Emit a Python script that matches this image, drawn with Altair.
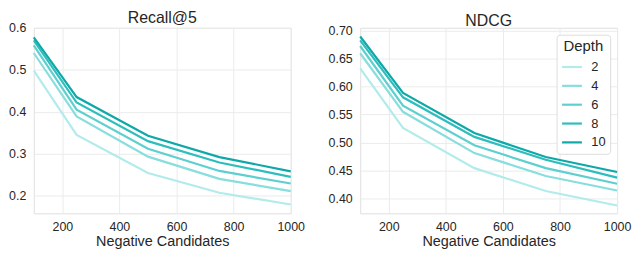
import altair as alt
import pandas as pd

candidates = [100, 250, 500, 750, 1000]
depths = [2, 4, 6, 8, 10]

recall = {
    2: [0.498, 0.345, 0.254, 0.207, 0.179],
    4: [0.540, 0.389, 0.293, 0.240, 0.211],
    6: [0.558, 0.405, 0.312, 0.259, 0.229],
    8: [0.570, 0.422, 0.330, 0.279, 0.245],
    10: [0.577, 0.435, 0.343, 0.292, 0.258],
}
ndcg = {
    2: [0.633, 0.526, 0.454, 0.413, 0.387],
    4: [0.660, 0.555, 0.481, 0.440, 0.414],
    6: [0.673, 0.566, 0.495, 0.454, 0.426],
    8: [0.683, 0.581, 0.510, 0.469, 0.437],
    10: [0.690, 0.589, 0.517, 0.474, 0.447],
}
colors = ["#b2ebeb", "#88dddd", "#5ecfcf", "#2ebdbd", "#0fa8a8"]

def frame(d):
    rows = []
    for dep in depths:
        for x, v in zip(candidates, d[dep]):
            rows.append({"Negative Candidates": x, "Depth": str(dep), "value": v})
    return pd.DataFrame(rows)

FONT = "Liberation Sans"
color_scale = alt.Scale(domain=[str(d) for d in depths], range=colors)

def panel(df, title, domain, ticks, fmt, legend):
    return alt.Chart(df, title=alt.Title(title, fontSize=16, font=FONT, fontWeight="normal",
                                         color="#262626", offset=-4)).mark_line(strokeWidth=2.2).encode(
        x=alt.X("Negative Candidates:Q",
                scale=alt.Scale(domain=[100, 1000], nice=False, zero=False),
                axis=alt.Axis(values=[200, 400, 600, 800, 1000], format="d", labelFlush=False,
                              labelPadding=7, titlePadding=2, title="Negative Candidates")),
        y=alt.Y("value:Q", scale=alt.Scale(domain=domain, nice=False, zero=False),
                axis=alt.Axis(values=ticks, format=fmt, labelPadding=8, title=None)),
        color=alt.Color("Depth:N", scale=color_scale, sort=[str(d) for d in depths], legend=legend),
        detail="Depth:N",
    ).properties(width=259, height=187)

legend = alt.Legend(
    title="Depth", orient="top-right", offset=7, symbolType="stroke", symbolStrokeWidth=2.2,
    symbolSize=400, titleFontSize=15, titleFont=FONT, titleFontWeight="normal", titleColor="#262626",
    labelFontSize=13, labelFont=FONT, labelColor="#262626", fillColor="white",
    strokeColor="#dddddd", cornerRadius=3, padding=4, rowPadding=0, titleAnchor="middle",
    titlePadding=2, labelOffset=8,
)

left = panel(frame(recall), "Recall@5", [0.158, 0.600], [0.2, 0.3, 0.4, 0.5, 0.6], ".1f", None)
right = panel(frame(ndcg), "NDCG", [0.373, 0.7056], [0.40, 0.45, 0.50, 0.55, 0.60, 0.65, 0.70], ".2f", legend)

chart = alt.hconcat(left, right, spacing=22).resolve_scale(color="independent").configure_view(
    stroke="#e0e0e0", strokeWidth=1
).configure_axis(
    grid=True, gridColor="#ebebeb", gridWidth=1, domain=False, ticks=False,
    labelFont=FONT, labelFontSize=12.5, labelColor="#262626",
    titleFont=FONT, titleFontSize=14.5, titleFontWeight="normal", titleColor="#262626",
).properties(padding=0, background="white")

chart.save("out.html", embed_options={"renderer": "svg", "actions": False})
